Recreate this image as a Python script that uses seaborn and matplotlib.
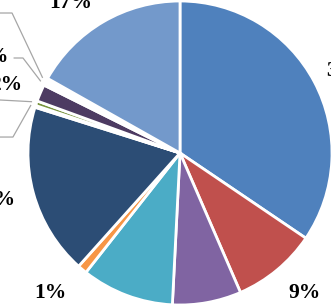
import matplotlib
matplotlib.use("Agg")
import numpy as np
import matplotlib.pyplot as plt
import seaborn as sns

# --- данные секторов (по часовой стрелке от 12 часов) ---
shares = [34.4, 9.0, 7.3, 9.8, 1.0, 18.2, 0.2, 0.5, 1.8, 0.4, 0.4, 16.8]
pct_labels = ["34%", "9%", "7%", "10%", "1%", "18%", "0%", "0%", "2%", "0%", "0%", "17%"]
colors = ["#4F81BD", "#C0504D", "#8064A2", "#4BACC6", "#F79646", "#2C4D75",
          "#B65708", "#77933C", "#4D3B62", "#FFFFFF", "#FFFFFF", "#7399CB"]

# --- раскладка подписей: (x, y базовой линии, выравнивание, x излома выноски или None) ---
# единицы - радиусы круга, центр в (0, 0)
label_layout = [
    (0.960, 0.507, "left", None),
    (0.822, -0.954, "center", None),
    (0.05, -1.25, "center", None),
    (-0.45, -1.20, "center", None),
    (-0.855, -0.954, "center", None),
    (-1.086, -0.342, "right", None),
    (-1.217, 0.079, "right", -1.099),
    (-1.217, 0.323, "right", -1.190),
    (-1.035, 0.414, "right", None),
    (-1.125, 0.599, "right", -1.033),
    (-1.217, 0.895, "right", -1.105),
    (-0.717, 0.954, "center", None),
]
leader_slices = [6, 7, 9, 10]

W, H = 331, 307
R_PX = 152
CX, CY = 180, 153

sns.set_theme(style="white")
plt.rcParams["font.family"] = ["Liberation Serif", "DejaVu Serif"]

fig = plt.figure(figsize=(W / 100, H / 100), dpi=100)
ax = fig.add_axes([0, 0, 1, 1])

wedges, _ = ax.pie(shares, colors=colors, startangle=90, counterclock=False,
                   radius=1.0, wedgeprops=dict(edgecolor="white", linewidth=2.0))

for i, (w, txt) in enumerate(zip(wedges, pct_labels)):
    x, y, ha, elbow = label_layout[i]
    ax.text(x, y, txt, ha=ha, va="baseline", fontsize=15.5, fontweight="bold",
            color="black", clip_on=False)
    if i in leader_slices:
        mid = np.deg2rad((w.theta1 + w.theta2) / 2)
        px, py = 1.03 * np.cos(mid), 1.03 * np.sin(mid)
        ly = y + 0.026
        x0 = x + 0.03
        xs = [x0]
        ys = [ly]
        if elbow is not None:
            xs.append(elbow)
            ys.append(ly)
        xs.append(px)
        ys.append(py)
        ax.plot(xs, ys, color="#A6A6A6", linewidth=0.9, solid_capstyle="butt")

ax.set_xlim(-CX / R_PX, (W - CX) / R_PX)
ax.set_ylim(-(H - CY) / R_PX, CY / R_PX)
ax.set_aspect("equal", adjustable="box")
ax.axis("off")

fig.savefig("out.png", dpi=100, facecolor="white")
plt.close(fig)
